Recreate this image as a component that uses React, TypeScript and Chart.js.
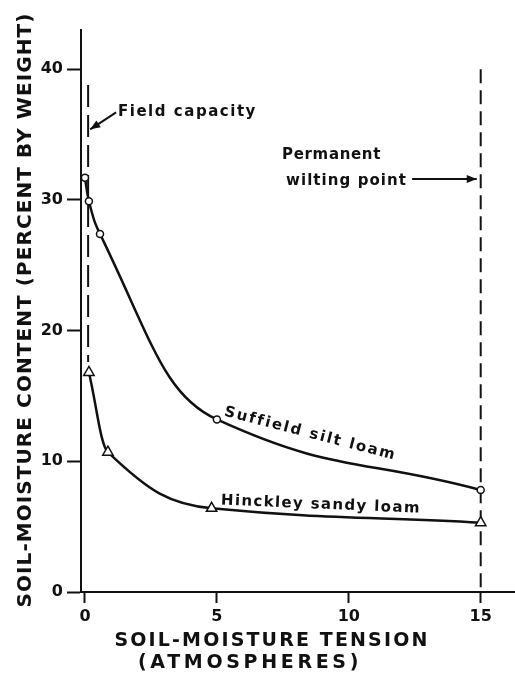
import React, { useEffect, useRef } from "react";
import { Chart, registerables } from "chart.js";

Chart.register(...registerables);

// Data
const suffieldX = [0, 0.15, 0.57, 5, 15];
const suffieldY = [31.7, 29.9, 27.4, 13.2, 7.8];
const hinckleyX = [0.15, 0.87, 4.8, 15];
const hinckleyY = [16.8, 10.7, 6.4, 5.3];

const fieldCapacityX = 0.12;
const fieldCapacityY = [38.8, 17.6];
const wiltingPointX = 15;
const wiltingPointY = [40, 0];

const xTicks = [0, 5, 10, 15];
const yTicks = [0, 10, 20, 30, 40];

const xTitle = ["SOIL-MOISTURE TENSION", "(ATMOSPHERES)"];
const yTitle = "SOIL-MOISTURE CONTENT (PERCENT BY WEIGHT)";
const fieldCapacityLabel = "Field capacity";
const wiltingLabel = ["Permanent", "wilting point"];
const suffieldLabel = "Suffield silt loam";
const hinckleyLabel = "Hinckley sandy loam";

const FONT = "'DejaVu Sans', sans-serif";
const INK = "#111";

function spacedText(ctx: CanvasRenderingContext2D, text: string, x: number, y: number, width: number) {
  (ctx as any).letterSpacing = "0px";
  const w = ctx.measureText(text).width;
  const sp = Math.max(0, (width - w) / text.length);
  (ctx as any).letterSpacing = sp + "px";
  ctx.fillText(text, x, y);
  (ctx as any).letterSpacing = "0px";
}

function arrow(ctx: CanvasRenderingContext2D, x1: number, y1: number, x2: number, y2: number) {
  ctx.beginPath();
  ctx.moveTo(x1, y1);
  ctx.lineTo(x2, y2);
  ctx.lineWidth = 2;
  ctx.strokeStyle = INK;
  ctx.stroke();
  const a = Math.atan2(y2 - y1, x2 - x1);
  const L = 10, W = 4;
  ctx.beginPath();
  ctx.moveTo(x2, y2);
  ctx.lineTo(x2 - L * Math.cos(a) + W * Math.sin(a), y2 - L * Math.sin(a) - W * Math.cos(a));
  ctx.lineTo(x2 - L * Math.cos(a) - W * Math.sin(a), y2 - L * Math.sin(a) + W * Math.cos(a));
  ctx.closePath();
  ctx.fillStyle = INK;
  ctx.fill();
}

// Smooth curves with harmonic-mean (Fritsch–Butland) tangents in pixel space
const harmonicSpline = {
  id: "harmonicSpline",
  beforeDatasetDraw(chart: any, args: any) {
    const ds = chart.data.datasets[args.index];
    if (!ds.harmonicSpline) return;
    const meta = args.meta;
    const line = meta.dataset;
    line.updateControlPoints(chart.chartArea, "x");
    const pts = meta.data;
    const n = pts.length;
    const xs = pts.map((p: any) => p.x);
    const ys = pts.map((p: any) => p.y);
    const d: number[] = [];
    for (let i = 0; i < n - 1; i++) d.push((ys[i + 1] - ys[i]) / (xs[i + 1] - xs[i]));
    const m: number[] = [];
    for (let i = 0; i < n; i++) {
      if (i === 0) m.push(d[0]);
      else if (i === n - 1) m.push(d[n - 2]);
      else m.push(d[i - 1] * d[i] > 0 ? 2 / (1 / d[i - 1] + 1 / d[i]) : 0);
    }
    const k = ds.armFactor ?? 0.4;
    for (let i = 0; i < n; i++) {
      const p = pts[i];
      if (i > 0) {
        const h = xs[i] - xs[i - 1];
        p.cp1x = xs[i] - k * h;
        p.cp1y = ys[i] - k * h * m[i];
      } else {
        p.cp1x = xs[i];
        p.cp1y = ys[i];
      }
      if (i < n - 1) {
        const h = xs[i + 1] - xs[i];
        p.cp2x = xs[i] + k * h;
        p.cp2y = ys[i] + k * h * m[i];
      } else {
        p.cp2x = xs[i];
        p.cp2y = ys[i];
      }
    }
    line._path = undefined;
  },
};

const annotations = {
  id: "annotations",
  afterDraw(chart: any) {
    const ctx: CanvasRenderingContext2D = chart.ctx;
    const xs = chart.scales.x;
    const ys = chart.scales.y;
    const X = (v: number) => xs.getPixelForValue(v);
    const Y = (v: number) => ys.getPixelForValue(v);
    ctx.save();
    ctx.fillStyle = INK;

    // axis titles
    ctx.font = `bold 19px ${FONT}`;
    ctx.textAlign = "center";
    ctx.textBaseline = "middle";
    spacedText(ctx, xTitle[0], 272, 641, 315);
    spacedText(ctx, xTitle[1], 250, 663, 224);

    ctx.save();
    ctx.translate(26, 310);
    ctx.rotate(-Math.PI / 2);
    ctx.font = `bold 20px ${FONT}`;
    spacedText(ctx, yTitle, 0, 0, 595);
    ctx.restore();

    // Field capacity
    ctx.font = `bold 15px ${FONT}`;
    ctx.textAlign = "left";
    ctx.textBaseline = "middle";
    spacedText(ctx, fieldCapacityLabel, X(1.25), Y(36.7), 139);
    arrow(ctx, X(1.18), Y(36.7), X(0.2), Y(35.4));

    // Permanent wilting point
    spacedText(ctx, wiltingLabel[0], X(7.47), Y(33.4), 99);
    spacedText(ctx, wiltingLabel[1], X(7.62), Y(31.4), 121);
    arrow(ctx, X(12.4), Y(31.6), X(14.85), Y(31.6));

    // curve labels
    ctx.font = `bold 15px ${FONT}`;
    ctx.textBaseline = "alphabetic";
    ctx.save();
    ctx.translate(X(5.25), Y(13.5));
    ctx.rotate((14.5 * Math.PI) / 180);
    spacedText(ctx, suffieldLabel, 0, 0, 176);
    ctx.restore();
    ctx.save();
    ctx.translate(X(5.15), Y(6.7));
    ctx.rotate((2.4 * Math.PI) / 180);
    spacedText(ctx, hinckleyLabel, 0, 0, 200);
    ctx.restore();

    ctx.restore();
  },
};

export default function App() {
  const ref = useRef<HTMLCanvasElement | null>(null);
  useEffect(() => {
    if (!ref.current) return;
    const chart = new Chart(ref.current, {
      type: "line",
      data: {
        datasets: [
          {
            label: "Suffield silt loam",
            data: suffieldX.map((x, i) => ({ x, y: suffieldY[i] })),
            borderColor: INK,
            borderWidth: 2.5,
            tension: 0.4,
            harmonicSpline: true,
            armFactor: 0.45,
            pointStyle: "circle",
            pointRadius: 3.5,
            pointBorderWidth: 1.5,
            pointBackgroundColor: "#fff",
            pointBorderColor: INK,
          } as any,
          {
            label: "Hinckley sandy loam",
            data: hinckleyX.map((x, i) => ({ x, y: hinckleyY[i] })),
            borderColor: INK,
            borderWidth: 2.5,
            tension: 0.4,
            harmonicSpline: true,
            armFactor: 0.4,
            pointStyle: "triangle",
            pointRadius: 6,
            pointBorderWidth: 1.5,
            pointBackgroundColor: "#fff",
            pointBorderColor: INK,
          } as any,
          {
            label: "Field capacity",
            data: fieldCapacityY.map((y) => ({ x: fieldCapacityX, y })),
            borderColor: INK,
            borderWidth: 2,
            borderDash: [22, 8],
            pointRadius: 0,
            order: 5,
          },
          {
            label: "Permanent wilting point",
            data: wiltingPointY.map((y) => ({ x: wiltingPointX, y })),
            borderColor: INK,
            borderWidth: 2,
            borderDash: [14, 7],
            pointRadius: 0,
            order: 5,
          },
        ],
      },
      options: {
        responsive: false,
        animation: false,
        layout: { autoPadding: false, padding: { top: 30, right: 0, left: 0, bottom: 0 } },
        plugins: { legend: { display: false }, tooltip: { enabled: false } },
        scales: {
          x: {
            type: "linear",
            min: -0.15,
            max: 16.3,
            afterBuildTicks: (s: any) => {
              s.ticks = xTicks.map((v) => ({ value: v }));
            },
            afterFit: (s: any) => {
              s.height = 81;
              s.paddingLeft = 0;
              s.paddingRight = 0;
            },
            grid: { drawOnChartArea: false, tickLength: 11, tickWidth: 2, tickColor: INK },
            border: { color: INK, width: 2 },
            ticks: { color: INK, font: { family: FONT, size: 16, weight: "bold" }, padding: 4, maxRotation: 0 },
          },
          y: {
            type: "linear",
            min: 0,
            max: 43,
            afterBuildTicks: (s: any) => {
              s.ticks = yTicks.map((v) => ({ value: v }));
            },
            afterFit: (s: any) => {
              s.width = 81;
              s.paddingTop = 0;
              s.paddingBottom = 0;
            },
            grid: { drawOnChartArea: false, tickLength: 14, tickWidth: 2, tickColor: INK },
            border: { color: INK, width: 2 },
            ticks: { color: INK, font: { family: FONT, size: 16, weight: "bold" }, padding: 4 },
          },
        },
      },
      plugins: [harmonicSpline, annotations],
    });
    return () => chart.destroy();
  }, []);
  return (
    <div style={{ position: "absolute", left: 0, top: 0, width: 515, height: 673, background: "#fff" }}>
      <canvas ref={ref} width={515} height={673} style={{ display: "block" }} />
    </div>
  );
}
